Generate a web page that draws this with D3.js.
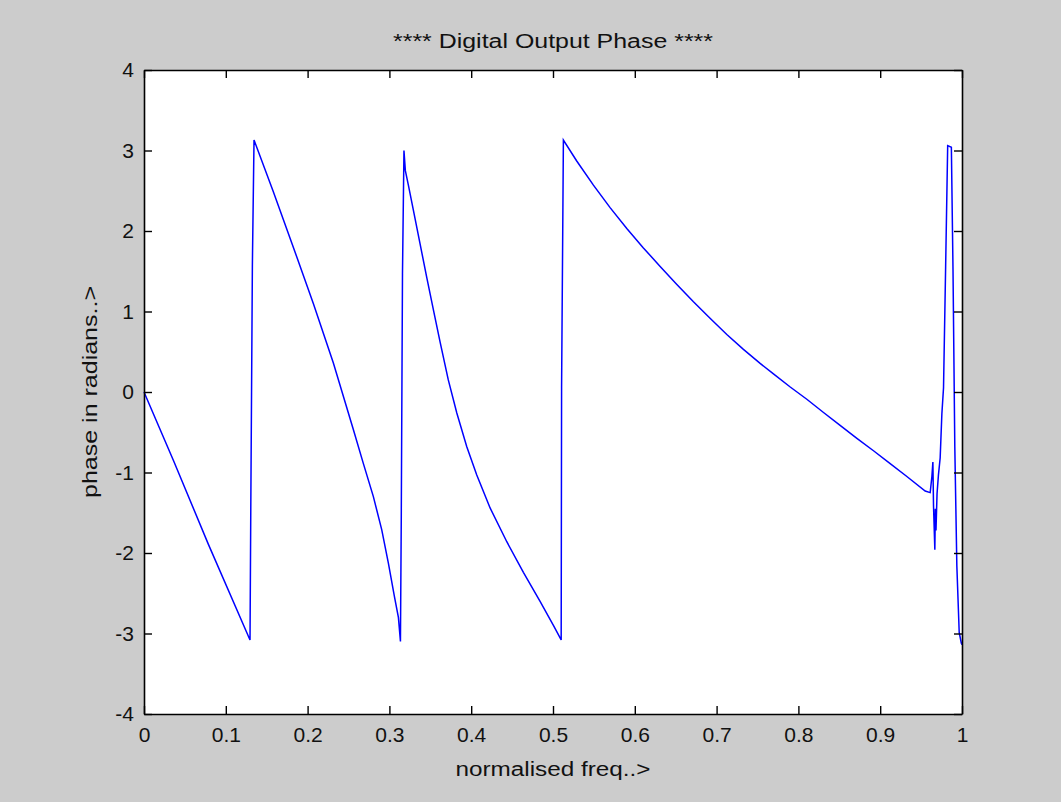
<!DOCTYPE html>
<html>
<head>
<meta charset="utf-8">
<script src="https://cdn.jsdelivr.net/npm/d3@7"></script>
<style>
  body { margin: 0; background: #cccccc; }
  svg { display: block; }
  text { font-family: "Liberation Sans", Arial, sans-serif; }
</style>
</head>
<body>
<svg id="chart"></svg>
<script>
// normalised frequency samples
var FREQ = [
    0, 0.036, 0.0786, 0.1296,
    0.1305, 0.1325, 0.1345,
    0.158, 0.1867, 0.207, 0.2315, 0.256, 0.2682, 0.2804, 0.2906, 0.2988, 0.3061, 0.311, 0.3135,
    0.3145, 0.3160, 0.3178, 0.3195,
    0.3232, 0.3293, 0.3375, 0.3457, 0.3538, 0.362, 0.372, 0.3824, 0.3946, 0.4068,
    0.4231, 0.4435, 0.4638, 0.4842, 0.5005, 0.510,
    0.5105, 0.5127,
    0.529, 0.5494, 0.5698, 0.5902, 0.6105, 0.631, 0.6514, 0.6717, 0.692, 0.7125,
    0.7328, 0.7532, 0.7695, 0.79, 0.8103, 0.8307, 0.851, 0.8715, 0.8918, 0.9122,
    0.9326, 0.955, 0.9611,
    0.9632, 0.9644, 0.9652, 0.9668, 0.9674, 0.9682, 0.9695, 0.9712, 0.9733, 0.9754,
    0.9774, 0.9800, 0.9825, 0.9870, 0.9890, 0.9912, 0.9937, 0.9966, 0.9992, 1.0
];

// phase in radians at each sample
var PHASE = [
    0, -0.85, -1.89, -3.08,
    -1.53, 1.58, 3.13,
    2.49, 1.68, 1.10, 0.36, -0.47, -0.89, -1.30, -1.71, -2.13, -2.54, -2.80, -3.10,
    -1.59, 1.47, 3.00, 2.75,
    2.57, 2.26, 1.84, 1.42, 1.02, 0.62, 0.15, -0.26, -0.68, -1.03,
    -1.44, -1.86, -2.24, -2.60, -2.90, -3.08,
    0.05, 3.13,
    2.87, 2.57, 2.29, 2.03, 1.79, 1.56, 1.335, 1.12, 0.915, 0.715,
    0.53, 0.355, 0.225, 0.062, -0.09, -0.255, -0.415, -0.575, -0.73, -0.89,
    -1.05, -1.23, -1.25,
    -1.05, -0.87, -1.42, -1.96, -1.45, -1.72, -1.26, -1.03, -0.82, -0.27,
    0.05, 1.56, 3.06, 3.04, 1.52, -0.68, -2.16, -2.99, -3.12, -3.14
];

var X_TICKS = [0, 0.1, 0.2, 0.3, 0.4, 0.5, 0.6, 0.7, 0.8, 0.9, 1];
var Y_TICKS = [-4, -3, -2, -1, 0, 1, 2, 3, 4];

var TITLE = "**** Digital Output Phase ****";
var X_LABEL = "normalised freq..>";
var Y_LABEL = "phase in radians..>";

var W = 1061, H = 802;
var margin = {top: 70, right: 99, bottom: 88, left: 144};
var width = W - margin.left - margin.right;
var height = H - margin.top - margin.bottom;

function draw_chart() {
    var svg = d3.select('#chart')
        .attr('width', W)
        .attr('height', H);

    svg.append('rect')
        .attr('width', W)
        .attr('height', H)
        .attr('fill', '#cccccc');

    var g = svg.append('g')
        .attr('transform', 'translate(' + margin.left + ',' + margin.top + ')');

    var x = d3.scaleLinear().domain([0, 1]).range([0, width]);
    var y = d3.scaleLinear().domain([-4, 4]).range([height, 0]);

    g.append('rect')
        .attr('width', width)
        .attr('height', height)
        .attr('fill', 'white');

    var points = FREQ.map((f, i) => [f, PHASE[i]]);

    var line = d3.line()
        .x(d => x(d[0]))
        .y(d => y(d[1]));

    g.append('path')
        .datum(points)
        .attr('fill', 'none')
        .attr('stroke', '#0000ff')
        .attr('stroke-width', 1.5)
        .attr('stroke-linejoin', 'miter')
        .attr('d', line);

    // matlab style box: inward ticks on all four sides
    var fmt = d => String(d);

    g.append('g')
        .attr('class', 'axis')
        .attr('transform', 'translate(0,' + height + ')')
        .call(d3.axisBottom(x).tickValues(X_TICKS).tickFormat(fmt)
            .tickSizeInner(-8).tickSizeOuter(0).tickPadding(13));

    g.append('g')
        .attr('class', 'axis')
        .call(d3.axisTop(x).tickValues(X_TICKS).tickFormat('')
            .tickSizeInner(-8).tickSizeOuter(0));

    g.append('g')
        .attr('class', 'axis')
        .call(d3.axisLeft(y).tickValues(Y_TICKS).tickFormat(fmt)
            .tickSizeInner(-8).tickSizeOuter(0).tickPadding(10));

    g.append('g')
        .attr('class', 'axis')
        .attr('transform', 'translate(' + width + ',0)')
        .call(d3.axisRight(y).tickValues(Y_TICKS).tickFormat('')
            .tickSizeInner(-8).tickSizeOuter(0));

    svg.selectAll('.axis path')
        .attr('stroke', '#000')
        .attr('stroke-width', 1.6);
    svg.selectAll('.axis line')
        .attr('stroke', '#000')
        .attr('stroke-width', 1.4);
    svg.selectAll('.axis text')
        .attr('fill', '#111')
        .style('font-size', '21px')
        .style('font-family', '"Liberation Sans", Arial, sans-serif');

    svg.append('text')
        .attr('x', margin.left + width / 2)
        .attr('y', 48)
        .attr('text-anchor', 'middle')
        .attr('textLength', 320)
        .attr('lengthAdjust', 'spacingAndGlyphs')
        .style('font-size', '20px')
        .attr('fill', '#111')
        .text(TITLE);

    svg.append('text')
        .attr('x', margin.left + width / 2)
        .attr('y', 776)
        .attr('text-anchor', 'middle')
        .attr('textLength', 195)
        .attr('lengthAdjust', 'spacingAndGlyphs')
        .style('font-size', '20px')
        .attr('fill', '#111')
        .text(X_LABEL);

    svg.append('text')
        .attr('transform', 'translate(97,' + (margin.top + height / 2) + ') rotate(-90)')
        .attr('text-anchor', 'middle')
        .attr('textLength', 212)
        .attr('lengthAdjust', 'spacingAndGlyphs')
        .style('font-size', '20px')
        .attr('fill', '#111')
        .text(Y_LABEL);
}

draw_chart();
</script>
</body>
</html>
